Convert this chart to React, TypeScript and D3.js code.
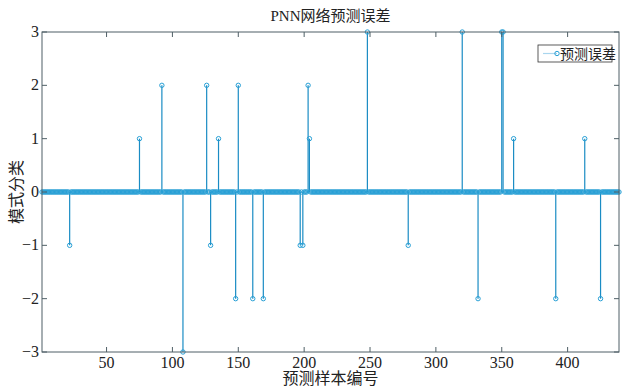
import React from "react";
import * as d3 from "d3";

const sampleCount = 439;
const errorIndices = [22, 75, 92, 108, 126, 129, 135, 148, 150, 161, 169, 197, 199, 203, 204, 248, 279, 320, 332, 350, 351, 359, 391, 413, 425];
const errorValues = [-1, 1, 2, -3, 2, -1, 1, -2, 2, -2, -2, -1, -1, 2, 1, 3, -1, 3, -2, 3, 3, 1, -2, 1, -2];
const xTicks = [50, 100, 150, 200, 250, 300, 350, 400];
const yTicks = [-3, -2, -1, 0, 1, 2, 3];
const titleText = "PNN网络预测误差";
const xLabel = "预测样本编号";
const yLabel = "模式分类";
const legendLabel = "预测误差";

const samples: { i: number; v: number }[] = [];
for (let i = 1; i <= sampleCount; i++) {
  const k = errorIndices.indexOf(i);
  samples.push({ i, v: k >= 0 ? errorValues[k] : 0 });
}

const W = 624, H = 389;
const L = 42, R = 619, T = 32, B = 352;
const stemColor = "#1a8cc4";
const markColor = "#28a0d6";
const axisColor = "#4f5f66";
const font = "'Liberation Serif', 'Noto Sans CJK SC', serif";

export default function App() {
  const x = d3.scaleLinear().domain([1, sampleCount]).range([L, R]);
  const y = d3.scaleLinear().domain([-3, 3]).range([B, T]);
  return (
    <svg width={W} height={H} style={{ position: "absolute", left: 0, top: 0, background: "#fff" }} fontFamily={font}>
      <rect x={0} y={0} width={W} height={H} fill="#fff" />
      {/* stems */}
      {samples.filter(d => d.v !== 0).map(d => (
        <line key={"s" + d.i} x1={x(d.i)} x2={x(d.i)} y1={y(0)} y2={y(d.v)} stroke={stemColor} strokeWidth={1.2} />
      ))}
      {/* baseline */}
      <line x1={L} x2={R} y1={y(0)} y2={y(0)} stroke={stemColor} strokeWidth={1} />
      {/* markers */}
      {samples.map(d => (
        <circle key={"m" + d.i} cx={x(d.i)} cy={y(d.v)} r={2.2} fill="none" stroke={markColor} strokeWidth={1} />
      ))}
      {/* axes box */}
      <rect x={L} y={T} width={R - L} height={B - T} fill="none" stroke={axisColor} strokeWidth={1} />
      {xTicks.map(t => (
        <g key={"xt" + t}>
          <line x1={x(t)} x2={x(t)} y1={B} y2={B - 5} stroke={axisColor} />
          <line x1={x(t)} x2={x(t)} y1={T} y2={T + 5} stroke={axisColor} />
          <text x={x(t)} y={B + 16} textAnchor="middle" fontSize={16} fill="#222">{t}</text>
        </g>
      ))}
      {yTicks.map(t => (
        <g key={"yt" + t}>
          <line x1={L} x2={L + 5} y1={y(t)} y2={y(t)} stroke={axisColor} />
          <line x1={R} x2={R - 5} y1={y(t)} y2={y(t)} stroke={axisColor} />
          <text x={L - 3} y={y(t) + 5} textAnchor="end" fontSize={16} fill="#222">{t < 0 ? "\u2212" + Math.abs(t) : t}</text>
        </g>
      ))}
      <text x={(L + R) / 2} y={21} textAnchor="middle" fontSize={15} fill="#222">{titleText}</text>
      <text x={(L + R) / 2} y={384} textAnchor="middle" fontSize={16} fill="#222">{xLabel}</text>
      <text transform={`translate(22,${(T + B) / 2}) rotate(-90)`} textAnchor="middle" fontSize={16} fill="#222">{yLabel}</text>
      {/* legend */}
      <rect x={538} y={45} width={74} height={17} fill="#fff" stroke="#333" strokeWidth={0.8} />
      <line x1={543} x2={557} y1={53.5} y2={53.5} stroke="#a9d6ee" strokeWidth={1.2} />
      <circle cx={557} cy={53.5} r={2.2} fill="none" stroke={markColor} />
      <text x={560} y={59} fontSize={14} fill="#222">{legendLabel}</text>
    </svg>
  );
}
